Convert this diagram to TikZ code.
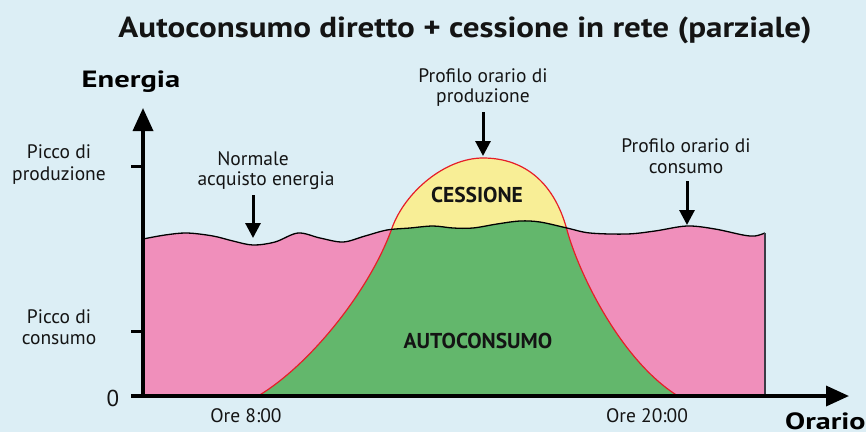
\documentclass[tikz,border=0pt]{standalone}
\usepackage{fontspec}
\setmainfont{PT Sans}
\usetikzlibrary{arrows.meta}
\definecolor{bgc}{RGB}{220,238,245}
\definecolor{pinkc}{RGB}{240,143,187}
\definecolor{greenc}{RGB}{99,183,108}
\definecolor{yellowc}{RGB}{248,238,150}
\definecolor{redc}{RGB}{230,30,40}
\definecolor{edgec}{RGB}{60,60,70}
\definecolor{txt}{RGB}{20,20,20}
\tikzset{
  lbl/.style={font=\fontsize{19.5}{22}\selectfont, inner sep=0pt, anchor=base, text=txt},
  boldlbl/.style={font=\fontsize{21.5}{24}\selectfont\bfseries, inner sep=0pt, anchor=base, text=txt},
  axis/.style={line width=3.5pt, -{Triangle[length=23pt,width=20pt]}},
  pointer/.style={line width=3pt, -{Triangle[length=15pt,width=15pt]}},
  conscurve/.style={insert path={-- plot[smooth, tension=0.55] coordinates {(143,239) (165,235) (187,233) (213,236) (233,241) (253,245) (275,242) (298,233) (320,238) (343,242) (365,236) (387,230) (410,228) (433,226) (453,228) (473,228) (497,224) (520,221) (540,222) (567,228) (590,233) (627,234) (655,231) (687,226) (715,229) (743,235) (755,236) (765,233)}}},
  prodcurve/.style={insert path={(258,396) .. controls (310,365) and (370,290) .. (392,228) .. controls (405,192) and (445,158) .. (483,158) .. controls (520,158) and (553,178) .. (567,230) .. controls (578,271) and (620,360) .. (678,396)}},
}
\begin{document}
\begin{tikzpicture}[x=1pt,y=-1pt]
\fill[bgc] (0,0) rectangle (866,432);
\useasboundingbox (0,0) rectangle (866,432);
% areas
\fill[pinkc] (143,396) [conscurve] -- (765,396) -- cycle;
\fill[yellowc] [prodcurve] -- cycle;
\begin{scope}
  \clip (143,396) [conscurve] -- (765,396) -- cycle;
  \fill[greenc] [prodcurve] -- cycle;
\end{scope}
\draw[redc, line width=1.2pt] [prodcurve];
\draw[black, line width=1.3pt] (143,239) [conscurve];
\draw[edgec, line width=1.5pt] (765,233) -- (765,396);
% axes
\coordinate (origin) at (143,396);
\coordinate (ytip) at (143,108);
\coordinate (xtip) at (849,396);
\draw[axis] (origin) -- (ytip);
\draw[axis] (origin) -- (xtip);
\coordinate (tickA) at (131,166);
\coordinate (tickAe) at (143,166);
\coordinate (tickB) at (131,331);
\coordinate (tickBe) at (143,331);
\coordinate (tickC) at (131,396);
\draw[line width=3pt] (tickA) -- (tickAe);
\draw[line width=3pt] (tickB) -- (tickBe);
\draw[line width=3.5pt] (tickC) -- (origin);
% title and axis names
\node[font=\fontsize{29}{32}\selectfont\bfseries, inner sep=0pt, anchor=base, text=txt] (title) at (465,37) {\scalebox{1.14}[1]{Autoconsumo diretto + cessione in rete (parziale)}};
\node[font=\fontsize{23.5}{26}\selectfont\bfseries, inner sep=0pt, anchor=base, text=black] (energia) at (131,87.5) {\scalebox{1.3}[1]{Energia}};
\node[font=\fontsize{23.5}{26}\selectfont\bfseries, inner sep=0pt, anchor=base west, text=black] (orario) at (785,429) {\scalebox{1.28}[1]{Orario}};
% labels
\node[lbl] (picprodA) at (59,158) {Picco di};
\node[lbl] (picprodB) at (59,180) {produzione};
\node[lbl] (picconsA) at (59,323) {Picco di};
\node[lbl] (picconsB) at (59,344) {consumo};
\node[font=\fontsize{23}{25}\selectfont, inner sep=0pt, anchor=base, text=txt] (zero) at (113,406) {0};
\node[lbl] (ore8) at (246,422) {Ore 8:00};
\node[lbl] (ore20) at (647,422) {Ore 20:00};
\node[lbl] (normaleA) at (253,165) {Normale};
\node[lbl] (normaleB) at (266,185) {acquisto energia};
\node[lbl] (profprodA) at (483,82) {Profilo orario di};
\node[lbl] (profprodB) at (483,102) {produzione};
\node[lbl] (profconsA) at (686,152) {Profilo orario di};
\node[lbl] (profconsB) at (686,173) {consumo};
\node[boldlbl] (cessione) at (477,202) {CESSIONE};
\node[boldlbl] (autocons) at (478,348) {AUTOCONSUMO};
% pointers
\coordinate (pA) at (253,238);
\coordinate (pB) at (483,156);
\coordinate (pC) at (687,225);
\coordinate (pAs) at (253,195);
\coordinate (pBs) at (483,112);
\coordinate (pCs) at (687,181);
\draw[pointer] (pAs) -- (pA);
\draw[pointer] (pBs) -- (pB);
\draw[pointer] (pCs) -- (pC);
\end{tikzpicture}
\end{document}
